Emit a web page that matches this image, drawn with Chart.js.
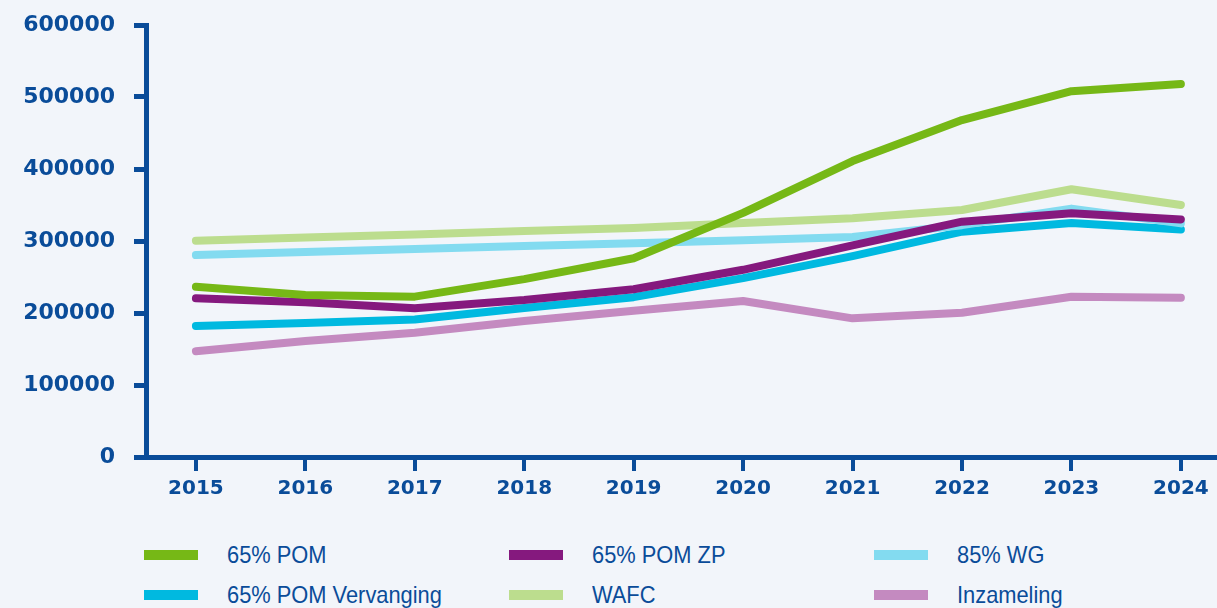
<!DOCTYPE html>
<html>
<head>
<meta charset="utf-8">
<script src="https://cdn.jsdelivr.net/npm/chart.js@4/dist/chart.umd.min.js"></script>
<style>
  body { margin: 0; background: #f2f5fa; }
  #wrap { position: relative; width: 1217px; height: 608px; overflow: hidden; }
  #chartbox { position: absolute; left: 0; top: 0; width: 1217px; height: 530px; }
  #legend { position: absolute; left: 144px; top: 540px; width: 1073px; }
  .item { position: absolute; display: flex; align-items: center; height: 30px;
          font-family: "Liberation Sans", Arial, sans-serif; font-size: 24px; color: #0a4c99;
          white-space: nowrap; }
  .item .box { width: 54px; height: 10px; margin-right: 29px; flex: none; }
  .item .txt { display: inline-block; transform: scaleX(0.91); transform-origin: left center; }
</style>
</head>
<body>
<div id="wrap">
  <div id="chartbox"><canvas id="chart"></canvas></div>
  <div id="legend"></div>
</div>
<script>
const axisColor = "#0a4c99";

const years = [2015, 2016, 2017, 2018, 2019, 2020, 2021, 2022, 2023, 2024];
const yTicks = [0, 100000, 200000, 300000, 400000, 500000, 600000];

const pom65 = [236500, 225000, 222700, 247000, 276000, 339000, 411000, 468000, 508000, 518000];
const pom65Zp = [220400, 215000, 206500, 218000, 233000, 260000, 294000, 326800, 338500, 330000];
const wg85 = [280500, 284700, 289000, 293000, 297000, 301000, 305500, 322000, 345000, 324500];
const pom65Vervanging = [182000, 186000, 191000, 207000, 222000, 248500, 279000, 313000, 325000, 316000];
const wafc = [300500, 305000, 309000, 314000, 318000, 325000, 331500, 343000, 371800, 350000];
const inzameling = [147000, 161000, 172600, 189000, 203000, 216700, 192600, 200400, 222600, 221300];

function points(values) {
  return years.map((y, i) => ({ x: y, y: values[i] }));
}

function makeSet(label, values, color) {
  return {
    label: label,
    data: points(values),
    borderColor: color,
    backgroundColor: color,
    borderWidth: 8,
    borderCapStyle: "round",
    borderJoinStyle: "round",
    pointRadius: 0,
    tension: 0,
  };
}

const datasets = [
  makeSet("65% POM", pom65, "#76b816"),
  makeSet("65% POM ZP", pom65Zp, "#85197e"),
  makeSet("85% WG", wg85, "#83dbf0"),
  makeSet("65% POM Vervanging", pom65Vervanging, "#00b9e0"),
  makeSet("WAFC", wafc, "#bcdd8e"),
  makeSet("Inzameling", inzameling, "#c48ac0"),
];

const chart = new Chart(document.getElementById("chart"), {
  type: "line",
  data: { datasets: datasets },
  options: {
    responsive: true,
    maintainAspectRatio: false,
    animation: false,
    layout: { padding: { top: 25, right: 0, left: 0, bottom: 0 } },
    plugins: { legend: { display: false }, tooltip: { enabled: false } },
    scales: {
      x: {
        type: "linear",
        min: 2014.544,
        max: 2024.33,
        afterBuildTicks: (scale) => { scale.ticks = years.map((v) => ({ value: v })); },
        afterFit: (scale) => { scale.height = 73; scale.paddingLeft = 0; scale.paddingRight = 0; },
        border: { display: true, color: axisColor, width: 5 },
        grid: { drawOnChartArea: false, drawTicks: true, tickLength: 14, lineWidth: 4, color: axisColor },
        ticks: {
          color: axisColor,
          padding: 6,
          maxRotation: 0,
          font: { family: "DejaVu Sans", weight: "bold", size: 20 },
          callback: (v) => String(v),
        },
      },
      y: {
        min: 0,
        max: 600000,
        afterBuildTicks: (scale) => { scale.ticks = yTicks.map((v) => ({ value: v })); },
        // labels sit away from the ticks, but that gap should not push the plot down
        afterFit: (scale) => { scale.width = 146; scale.paddingTop = 0; scale.paddingBottom = 0; },
        border: { display: true, color: axisColor, width: 5 },
        grid: { drawOnChartArea: false, drawTicks: true, tickLength: 12, lineWidth: 5, color: axisColor },
        ticks: {
          color: axisColor,
          padding: 19,
          font: { family: "DejaVu Sans", weight: "bold", size: 22 },
          callback: (v) => String(v),
        },
      },
    },
  },
});

// legend in three fixed columns, same order as the datasets
const legend = document.getElementById("legend");
chart.data.datasets.forEach((ds, i) => {
  const item = document.createElement("div");
  item.className = "item";
  item.style.left = (i % 3) * 365 + "px";
  item.style.top = Math.floor(i / 3) * 40 + "px";
  const box = document.createElement("span");
  box.className = "box";
  box.style.background = ds.borderColor;
  const txt = document.createElement("span");
  txt.className = "txt";
  txt.textContent = ds.label;
  item.appendChild(box);
  item.appendChild(txt);
  legend.appendChild(item);
});
</script>
</body>
</html>
